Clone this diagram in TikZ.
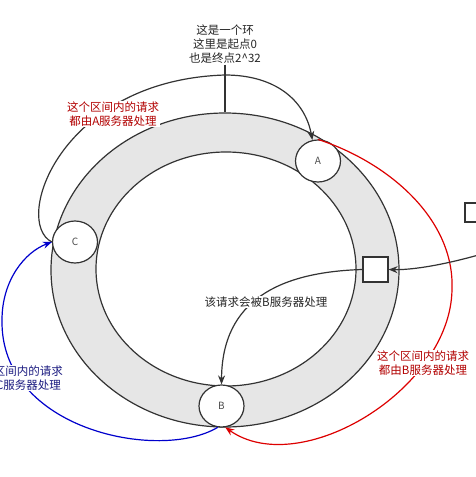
\documentclass[tikz,border=0pt]{standalone}
\usepackage{fontspec}
\setmainfont{Noto Sans CJK SC}
\usetikzlibrary{shapes.geometric,arrows.meta}
\definecolor{ringgray}{HTML}{E6E6E6}
\definecolor{linegray}{HTML}{333333}
\definecolor{redline}{HTML}{DD0000}
\definecolor{redtext}{HTML}{B20000}
\definecolor{blueline}{HTML}{0000CC}
\definecolor{bluetext}{HTML}{1A1A80}
\begin{document}
\begin{tikzpicture}[x=1pt,y=-1pt,
  ringshape/.style={ellipse, draw=linegray, line width=1.2pt, inner sep=0pt},
  server/.style={ellipse, draw=linegray, fill=white, line width=1.2pt, minimum width=45pt, minimum height=42pt, inner sep=0pt, font=\fontsize{10}{12}\selectfont, text=black!70},
  reqbox/.style={draw=linegray, fill=white, line width=1.2pt, inner sep=0pt},
  conn/.style={line width=1.2pt, draw=linegray},
  redconn/.style={line width=1.2pt, draw=redline},
  blueconn/.style={line width=1.2pt, draw=blueline},
  tipd/.style={-{Stealth[length=9pt,width=7pt]}},
  lbl/.style={fill=white, inner sep=1pt, align=center, font=\fontsize{11.5}{14}\selectfont},
]
\useasboundingbox (0,0) rectangle (476,477);
\clip (0,0) rectangle (476,477);
% ring
\node[ringshape, fill=ringgray, minimum width=348pt, minimum height=314pt] (outer) at (225,270) {};
\node[ringshape, fill=white, minimum width=260pt, minimum height=234pt] (inner) at (226,269) {};
% servers and request boxes
\node[server] (A) at (318,161) {A};
\node[server] (B) at (221.5,406) {B};
\node[server] (C) at (75,242) {C};
\node[reqbox, minimum width=25pt, minimum height=25pt] (sq) at (375.5,269.5) {};
\node[reqbox, minimum width=26pt, minimum height=19pt] (sq2) at (478,212.5) {};
\coordinate (src) at (482,254);
% connectors
\draw[conn,tipd] (C.west) .. controls (12,222) and (60,80) .. (225,75) .. controls (275,75) and (305,100) .. (A.105);
\draw[redconn,tipd] (A.90) .. controls (390,163) and (455,220) .. (452,290) .. controls (450,390) and (300,480) .. (B.-80);
\draw[blueconn,tipd] (B.-100) .. controls (160,462) and (0,430) .. (2,320) .. controls (2,280) and (25,252) .. (C.west);
\draw[conn,tipd] (sq.west) .. controls (280,272) and (222,300) .. (B.north);
\draw[conn,tipd] (src) .. controls (440,266) and (410,270) .. (sq.east);
% labels
\node[lbl, text=black!85] (ringlbl) at (225,44) {这是一个环\\这里是起点0\\也是终点2\textasciicircum32};
\draw[conn] (ringlbl.south) -- (outer.north);
\node[lbl, text=redtext] (albl) at (113,114) {这个区间内的请求\\都由A服务器处理};
\node[lbl, text=redtext] (blbl) at (423,363) {这个区间内的请求\\都由B服务器处理};
\node[lbl, text=bluetext] (clbl) at (17,378) {这个区间内的请求\\都由C服务器处理};
\node[lbl, text=black!85] (reqlbl) at (266,302) {该请求会被B服务器处理};
\end{tikzpicture}
\end{document}
